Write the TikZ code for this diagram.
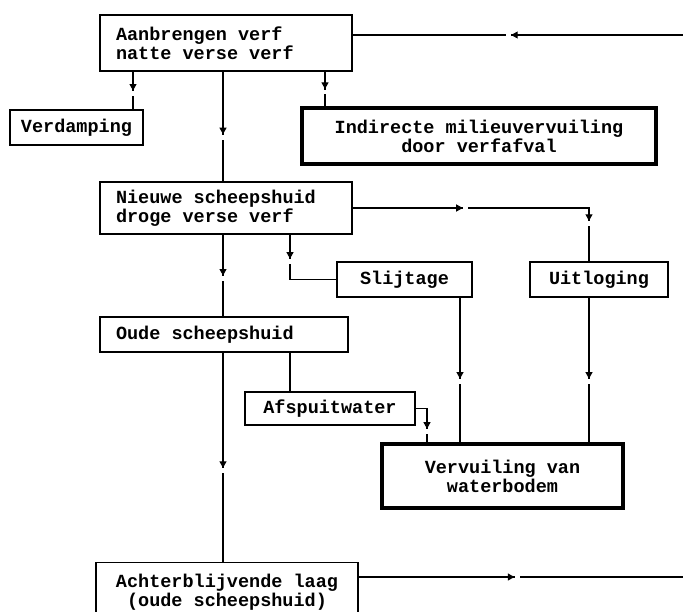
\documentclass[tikz,border=0pt]{standalone}
\usepackage{fontspec}
\usetikzlibrary{arrows.meta, decorations.markings}
\newfontfamily\typefam{Liberation Mono}
\newcommand\typefont{\typefam\bfseries\fontsize{18.5}{19}\selectfont}
\newcommand\flowtip{\fill[white] (0.6pt,-2pt) rectangle (5.5pt,2pt); \arrow{Triangle[width=7pt,length=6.5pt]}}

\begin{document}
\begin{tikzpicture}[
    x=1pt, y=-1pt,
    box/.style={rectangle, draw, line width=1.3pt, font=\typefont, inner xsep=10pt, inner ysep=0pt, align=center},
    leftbox/.style={box, align=left, inner xsep=16pt, text width=#1, execute at begin node={\spaceskip=0pt\xspaceskip=0pt}},
    heavy/.style={box, line width=3.6pt},
    flow/.style={line width=1.1pt},
    tipat/.style={postaction={decorate, decoration={markings, mark=at position #1 with {\flowtip}}}}
  ]
    \useasboundingbox (0,0) rectangle (683,611);
    \clip (0,0) rectangle (683,611);

    % boxes
    \node[leftbox=220pt, minimum height=56pt] (aanbr) at (226,43) {Aanbrengen verf\\natte verse verf};
    \node[box, minimum width=133pt, minimum height=35pt] (verdamp) at (76.5,127.5) {Verdamping};
    \node[heavy, minimum width=354pt, minimum height=56pt] (indirect) at (479,136) {Indirecte milieuvervuiling\\door verfafval};
    \node[leftbox=220pt, minimum height=52pt] (nieuwe) at (226,208) {Nieuwe scheepshuid\\droge verse verf};
    \node[box, minimum width=135pt, minimum height=35pt] (slijtage) at (404.5,279.5) {Slijtage};
    \node[box, minimum width=138pt, minimum height=35pt] (uitloging) at (599,279.5) {Uitloging};
    \node[leftbox=216pt, minimum height=35pt] (oude) at (224,334.5) {Oude scheepshuid};
    \node[box, minimum width=170pt, minimum height=33pt] (afspuit) at (330,408.5) {Afspuitwater};
    \node[heavy, minimum width=241pt, minimum height=64pt] (vervuil) at (502.5,476) {Vervuiling van\\waterbodem};
    \node[box, minimum width=262pt, inner ysep=11pt, anchor=north] (achter) at (227,562) {Achterblijvende laag\\(oude scheepshuid)};

    % columns and free ends
    \coordinate (colA) at (133,0);
    \coordinate (colB) at (223,0);
    \coordinate (colC) at (325,0);
    \coordinate (colD) at (290,0);
    \coordinate (colG) at (427,0);
    \coordinate (colE) at (460,0);
    \coordinate (colH) at (589,0);
    \coordinate (rin) at (683,35);
    \coordinate (rout) at (683,577);

    % connectors
    \draw[flow, tipat=0.52] (rin) -- (aanbr.east |- rin);
    \draw[flow, tipat=0.5] (aanbr.south -| colA) -- (verdamp.north -| colA);
    \draw[flow, tipat=0.57] (aanbr.south -| colB) -- (nieuwe.north -| colB);
    \draw[flow, tipat=0.5] (aanbr.south -| colC) -- (indirect.north -| colC);
    \draw[flow, tipat=0.38, tipat=0.86] (nieuwe.east) -| (uitloging.north -| colH);
    \draw[flow, tipat=0.5] (nieuwe.south -| colB) -- (oude.north -| colB);
    \draw[flow, tipat=24pt] (nieuwe.south -| colD) |- (slijtage.west);
    \draw[flow, tipat=0.55] (oude.south -| colB) -- (achter.north -| colB);
    \draw[flow] (oude.south -| colD) -- (afspuit.north -| colD);
    \draw[flow, tipat=0.7] (afspuit.east) -| (vervuil.north -| colG);
    \draw[flow, tipat=0.56] (slijtage.south -| colE) -- (vervuil.north -| colE);
    \draw[flow, tipat=0.56] (uitloging.south -| colH) -- (vervuil.north -| colH);
    \draw[flow, tipat=0.48] (achter.east |- rout) -- (rout);
  \end{tikzpicture}
\end{document}
